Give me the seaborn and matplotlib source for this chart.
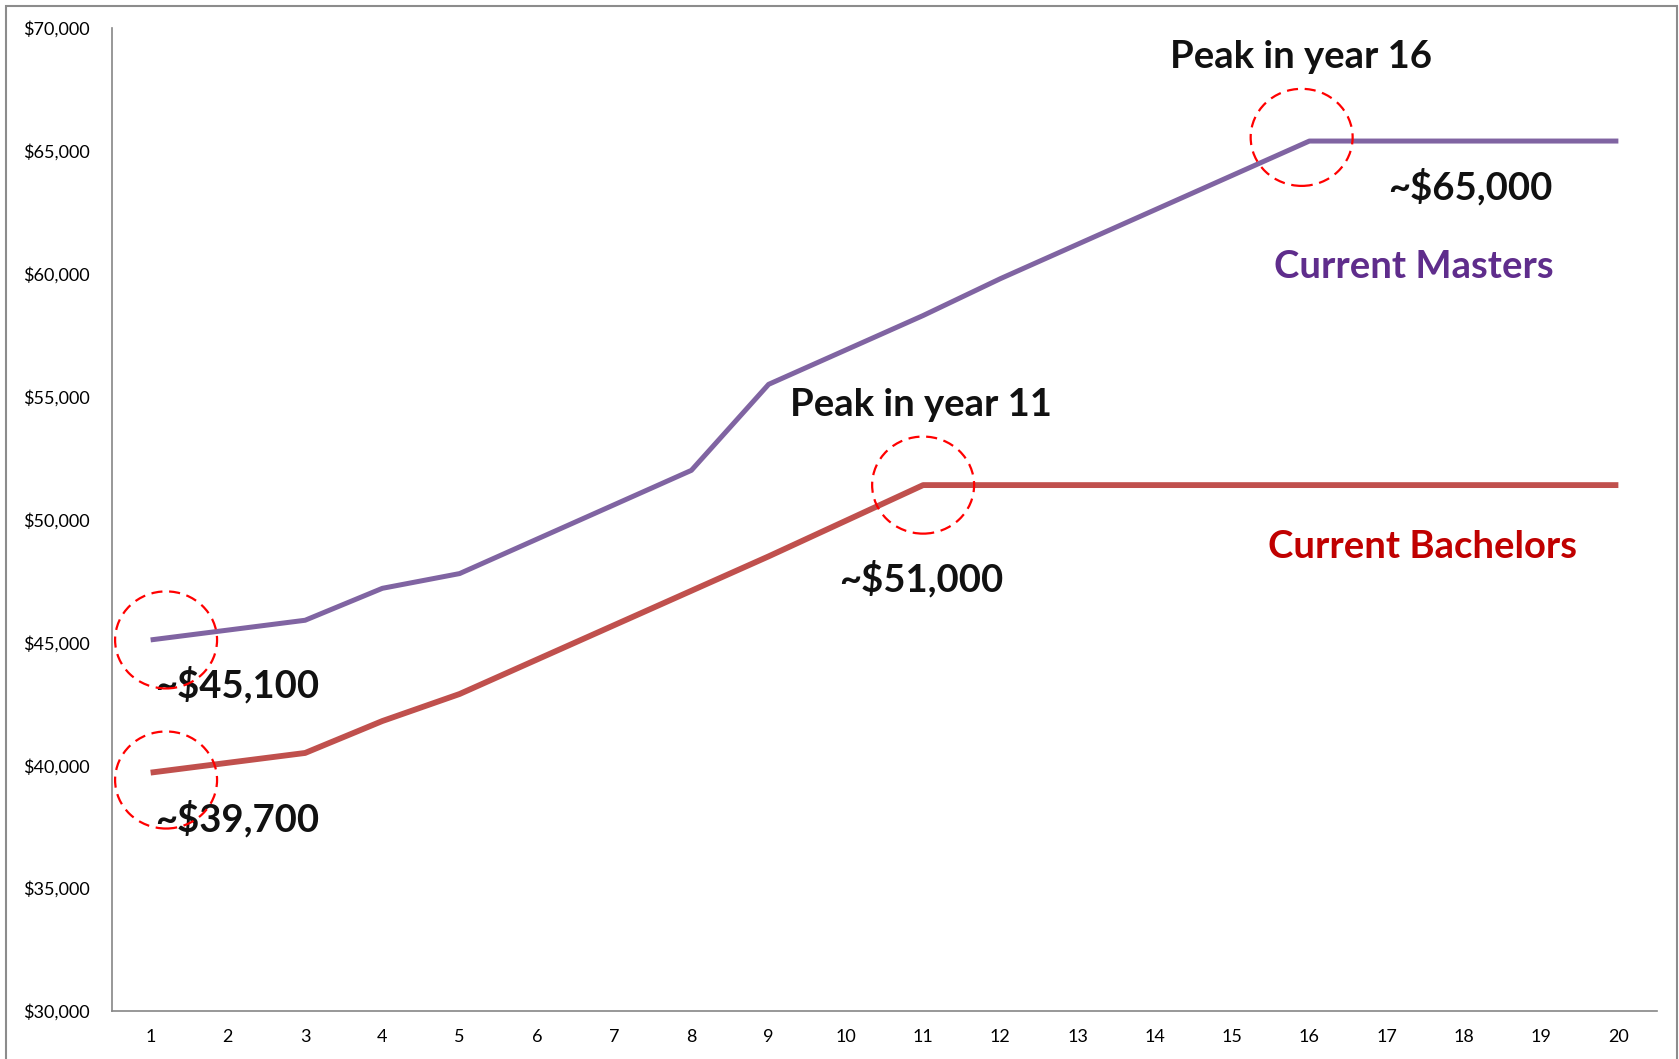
import numpy as np
import pandas as pd
import matplotlib
matplotlib.use("Agg")
import matplotlib.pyplot as plt
import seaborn as sns
from matplotlib.patches import Ellipse, Rectangle
from matplotlib.ticker import FuncFormatter, FixedLocator

# ---- data ----
years = list(range(1, 21))
masters = [45100, 45500, 45900, 47200, 47800, 49200, 50600, 52000, 55500, 56900,
           58300, 59800, 61200, 62600, 64000, 65400, 65400, 65400, 65400, 65400]
bachelors = [39700, 40100, 40500, 41800, 42900, 44300, 45700, 47100, 48500, 49950,
             51400, 51400, 51400, 51400, 51400, 51400, 51400, 51400, 51400, 51400]
series_names = ["Current Masters", "Current Bachelors"]
y_ticks = [30000, 35000, 40000, 45000, 50000, 55000, 60000, 65000, 70000]

df = pd.DataFrame({
    "Year": years * 2,
    "Salary": masters + bachelors,
    "Series": [series_names[0]] * 20 + [series_names[1]] * 20,
})

sns.set_style("white")
plt.rcParams["font.family"] = ["Lato", "DejaVu Sans"]

W, H = 1679, 1059
fig = plt.figure(figsize=(W / 100, H / 100), dpi=100)
ax = fig.add_axes([112 / W, 1 - 1011 / H, (1657 - 112) / W, (1011 - 28) / H])

palette = {series_names[0]: "#8064A2", series_names[1]: "#C0504D"}
sns.lineplot(data=df, x="Year", y="Salary", hue="Series", palette=palette,
             ax=ax, legend=False, linewidth=3.8)
for ln, lw in zip(ax.lines, [3.6, 4.2]):
    ln.set_linewidth(lw)
    ln.set_solid_capstyle("butt")

ax.set_xlim(0.5, 20.5)
ax.set_ylim(30000, 70000)
ax.set_xlabel("")
ax.set_ylabel("")
ax.set_yticks(y_ticks)
ax.yaxis.set_major_formatter(FuncFormatter(lambda v, p: f"${v:,.0f}"))
ax.set_xticks(years)
ax.xaxis.set_minor_locator(FixedLocator(np.arange(0.5, 21, 1)))
ax.tick_params(axis="x", which="major", length=0, pad=13, labelsize=13, colors="#000000")
ax.tick_params(axis="x", which="minor", length=6, width=1.2, color="#868686", direction="out")
ax.tick_params(axis="y", which="major", length=5, width=1.2, color="#868686", direction="out",
               pad=11, labelsize=13, labelcolor="#000000")
for s in ["top", "right"]:
    ax.spines[s].set_visible(False)
for s in ["left", "bottom"]:
    ax.spines[s].set_color("#868686")
    ax.spines[s].set_linewidth(1.2)

# figure border (bottom edge falls outside the image)
fig.patches.append(Rectangle((6 / W, -10 / H), (1677 - 6) / W, (1059 + 10 - 6) / H,
                             transform=fig.transFigure, fill=False,
                             edgecolor="#8c8c8c", linewidth=1.5))

# dashed circles (width ~1.32 categories, height ~3950 $)
cw, ch = 1.32, 3950
circles = [(1 + 0.2, masters[0]), (1 + 0.2, bachelors[0] - 300),
           (11, bachelors[10]), (16 - 0.1, masters[15] + 150)]
for cx, cy in circles:
    ax.add_patch(Ellipse((cx, cy), cw, ch, fill=False, edgecolor="#FF0000",
                         linewidth=1.6, linestyle=(0, (5, 3)), zorder=5))

bold = dict(fontsize=27.5, fontweight="bold", ha="center", va="center",
            textcoords="offset pixels", annotation_clip=False)
ax.annotate("~$45,100", (1, masters[0]), xytext=(87, -45), color="#111111", **bold)
ax.annotate("~$39,700", (1, bachelors[0]), xytext=(87, -46), color="#111111", **bold)
ax.annotate("Peak in year 11", (11, bachelors[10]), xytext=(-2, 80), color="#111111", **bold)
ax.annotate("~$51,000", (11, bachelors[10]), xytext=(-2, -94), color="#111111", **bold)
ax.annotate("Peak in year 16", (16, masters[15]), xytext=(-8, 84), color="#111111", **bold)
ax.annotate("~$65,000", (16, masters[15]), xytext=(161, -46), color="#111111", **bold)
ax.annotate("Current Masters", (20, masters[19]), xytext=(-205, -126), color="#5F2D8C", **bold)
ax.annotate("Current Bachelors", (20, bachelors[19]), xytext=(-196, -62), color="#C00000", **bold)

fig.savefig("out.png", dpi=100)
